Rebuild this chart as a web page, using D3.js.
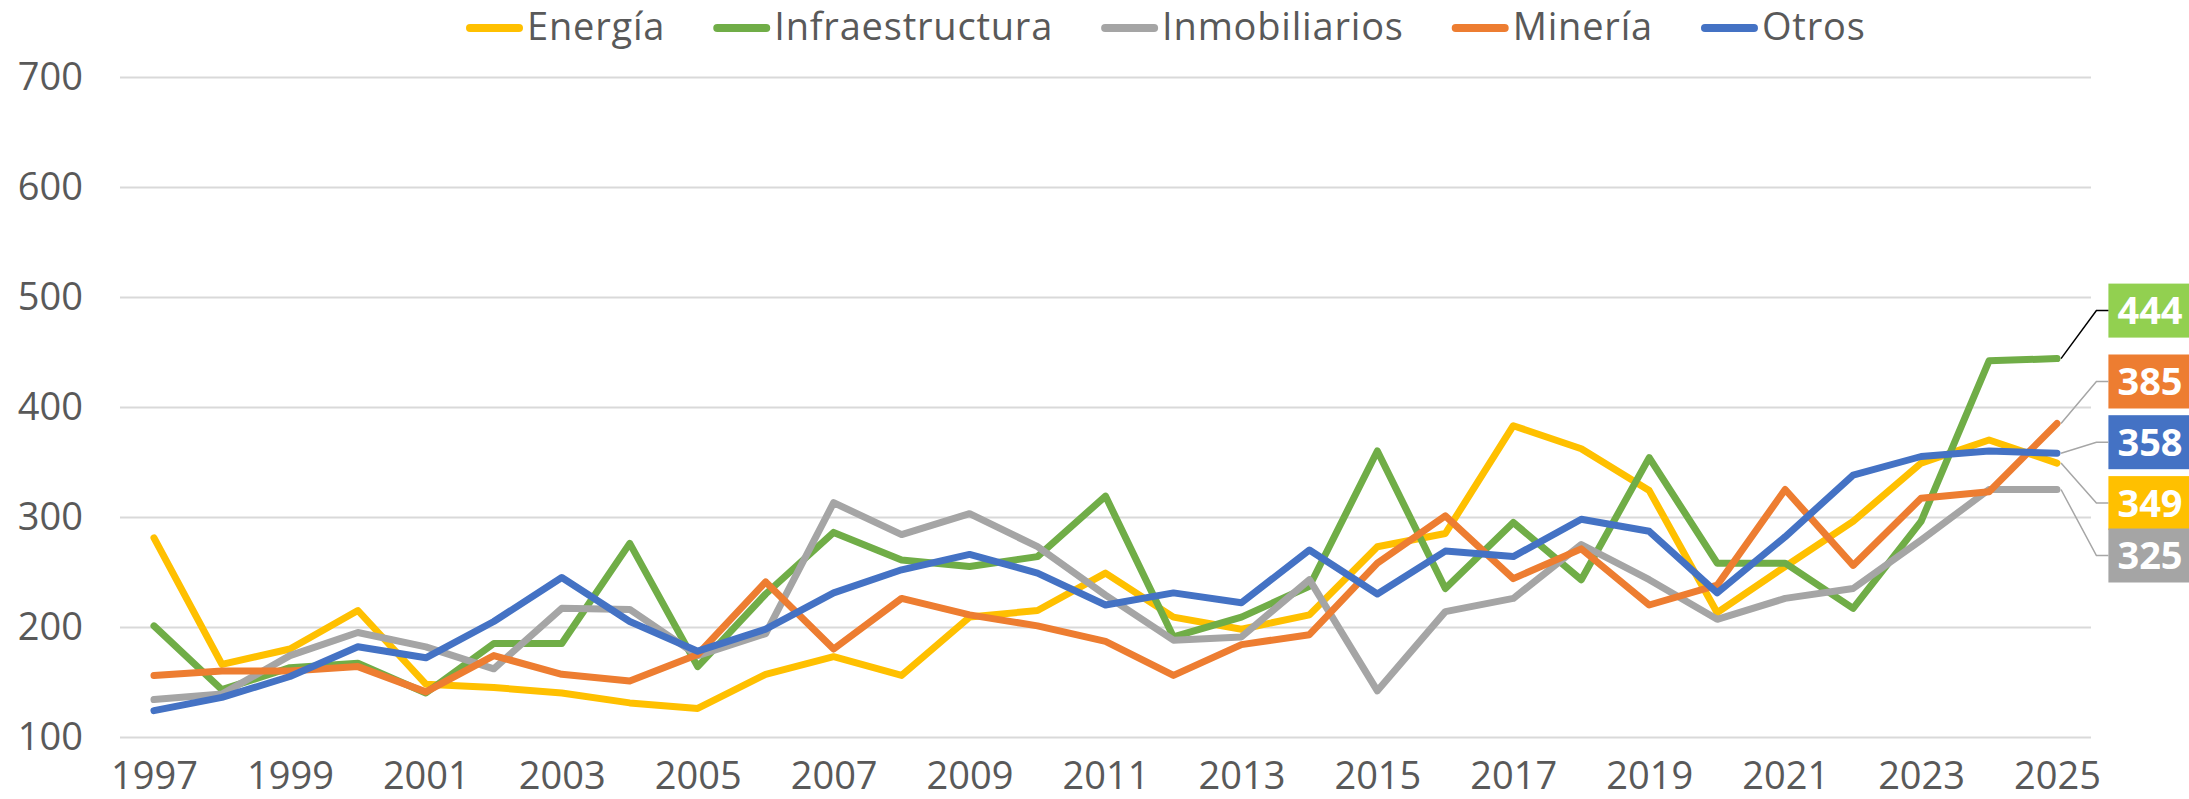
<!DOCTYPE html>
<html>
<head>
<meta charset="utf-8">
<script src="https://cdn.jsdelivr.net/npm/d3@7"></script>
<style>
    body { margin: 0; background: #fff; }
    text { font-family: "Open Sans", sans-serif; }
</style>
</head>
<body>
<div id="chart"></div>
<script>
// categories and tick labels
var years = ["1997", "1998", "1999", "2000", "2001", "2002", "2003", "2004", "2005", "2006",
    "2007", "2008", "2009", "2010", "2011", "2012", "2013", "2014", "2015", "2016",
    "2017", "2018", "2019", "2020", "2021", "2022", "2023", "2024", "2025"];
var xTicks = ["1997", "1999", "2001", "2003", "2005", "2007", "2009", "2011", "2013",
    "2015", "2017", "2019", "2021", "2023", "2025"];
var yTicks = [100, 200, 300, 400, 500, 600, 700];

// series values
var energia = [281, 166, 180, 215, 148, 145, 140, 131, 126, 157, 173, 156, 209, 215, 249,
    209, 198, 211, 273, 285, 383, 362, 324, 213, 255, 296, 349, 370, 349];
var infraestructura = [201, 143, 163, 167, 140, 185, 185, 276, 164, 230, 286, 261, 255, 264, 319,
    191, 209, 237, 360, 235, 295, 243, 354, 258, 258, 217, 296, 442, 444];
var inmobiliarios = [134, 139, 174, 195, 182, 162, 217, 216, 174, 194, 313, 284, 303, 273, 229,
    188, 191, 243, 142, 214, 226, 275, 243, 207, 226, 235, 279, 325, 325];
var mineria = [156, 160, 160, 164, 141, 174, 157, 151, 175, 241, 180, 226, 211, 201, 187,
    156, 184, 193, 258, 301, 244, 271, 220, 238, 325, 256, 317, 323, 385];
var otros = [124, 136, 155, 182, 172, 205, 245, 205, 178, 198, 231, 252, 266, 249, 220,
    231, 222, 270, 230, 269, 264, 298, 287, 231, 282, 338, 355, 360, 358];

var series = [
    { name: "Energía", values: energia, color: "#FFC000", box: "#FFC000", leader: "#A6A6A6", labelDy: 40 },
    { name: "Infraestructura", values: infraestructura, color: "#70AD47", box: "#92D050", leader: "#000000", labelDy: -48 },
    { name: "Inmobiliarios", values: inmobiliarios, color: "#A5A5A5", box: "#A5A5A5", leader: "#A6A6A6", labelDy: 66 },
    { name: "Minería", values: mineria, color: "#ED7D31", box: "#ED7D31", leader: "#A6A6A6", labelDy: -42 },
    { name: "Otros", values: otros, color: "#4472C4", box: "#4472C4", leader: "#A6A6A6", labelDy: -11 }
];

var W = 2189, H = 799;
var plot = { left: 120, right: 2091, top: 77, bottom: 737 };

var svg = d3.select("#chart")
    .append("svg")
    .attr("width", W)
    .attr("height", H)
    .style("display", "block");

var x = d3.scalePoint()
    .domain(years)
    .range([plot.left, plot.right])
    .padding(0.5);

var y = d3.scaleLinear()
    .domain([100, 700])
    .range([plot.bottom, plot.top]);

// gridlines
svg.append("g")
    .attr("transform", "translate(" + plot.left + ",0)")
    .call(d3.axisLeft(y)
        .tickValues(yTicks)
        .tickSize(-(plot.right - plot.left))
        .tickFormat(""))
    .call(g => g.select(".domain").remove())
    .selectAll("line")
    .attr("stroke", "#D9D9D9")
    .attr("stroke-width", 2);

// y axis labels
svg.append("g")
    .attr("transform", "translate(" + plot.left + ",0)")
    .call(d3.axisLeft(y).tickValues(yTicks).tickSize(0).tickPadding(37))
    .call(g => g.select(".domain").remove())
    .selectAll("text")
    .attr("fill", "#595959")
    .style("font-size", "38px")
    .style("font-family", "'Open Sans', sans-serif");

// x axis labels
svg.append("g")
    .attr("transform", "translate(0," + plot.bottom + ")")
    .call(d3.axisBottom(x).tickValues(xTicks).tickSize(0).tickPadding(25))
    .call(g => g.select(".domain").remove())
    .selectAll("text")
    .attr("fill", "#595959")
    .style("font-size", "38px")
    .style("font-family", "'Open Sans', sans-serif");

// the lines
var line = d3.line()
    .x(function (d, i) { return x(years[i]); })
    .y(function (d) { return y(d); });

svg.append("g")
    .selectAll("path")
    .data(series)
    .enter()
    .append("path")
    .attr("fill", "none")
    .attr("stroke", function (d) { return d.color; })
    .attr("stroke-width", 7)
    .attr("stroke-linejoin", "round")
    .attr("stroke-linecap", "round")
    .attr("d", function (d) { return line(d.values); });

// end labels with leader lines
var labels = svg.append("g");
var labelCx = 2150;
series.forEach(function (s) {
    var last = years.length - 1;
    var v = s.values[last];
    var px = x(years[last]), py = y(v);
    var ly = py + s.labelDy;
    var g = labels.append("g");
    var rect = g.append("rect");
    var t = g.append("text")
        .attr("x", labelCx)
        .attr("y", ly)
        .attr("dy", "0.36em")
        .attr("text-anchor", "middle")
        .attr("fill", "#fff")
        .style("font-size", "38px")
        .style("font-weight", "bold")
        .text(v);
    var w = t.node().getComputedTextLength();
    var boxLeft = labelCx - w / 2 - 9;
    rect.attr("x", boxLeft)
        .attr("y", ly - 27)
        .attr("width", w + 18)
        .attr("height", 54)
        .attr("fill", s.box);
    labels.append("path")
        .attr("fill", "none")
        .attr("stroke", s.leader)
        .attr("stroke-width", 1.5)
        .attr("d", "M" + (px + 4) + "," + py + "L" + (boxLeft - 12) + "," + ly + "L" + boxLeft + "," + ly);
});

// legend
var legend = svg.append("g").attr("transform", "translate(466,0)");
var lx = 0;
series.forEach(function (s) {
    legend.append("line")
        .attr("x1", lx + 4).attr("x2", lx + 53)
        .attr("y1", 28).attr("y2", 28)
        .attr("stroke", s.color)
        .attr("stroke-width", 8)
        .attr("stroke-linecap", "round");
    var t = legend.append("text")
        .attr("x", lx + 61)
        .attr("y", 40)
        .attr("fill", "#595959")
        .style("font-size", "38px")
        .style("letter-spacing", "0.8px")
        .text(s.name);
    lx += 61 + t.node().getComputedTextLength() + 48;
});
</script>
</body>
</html>
